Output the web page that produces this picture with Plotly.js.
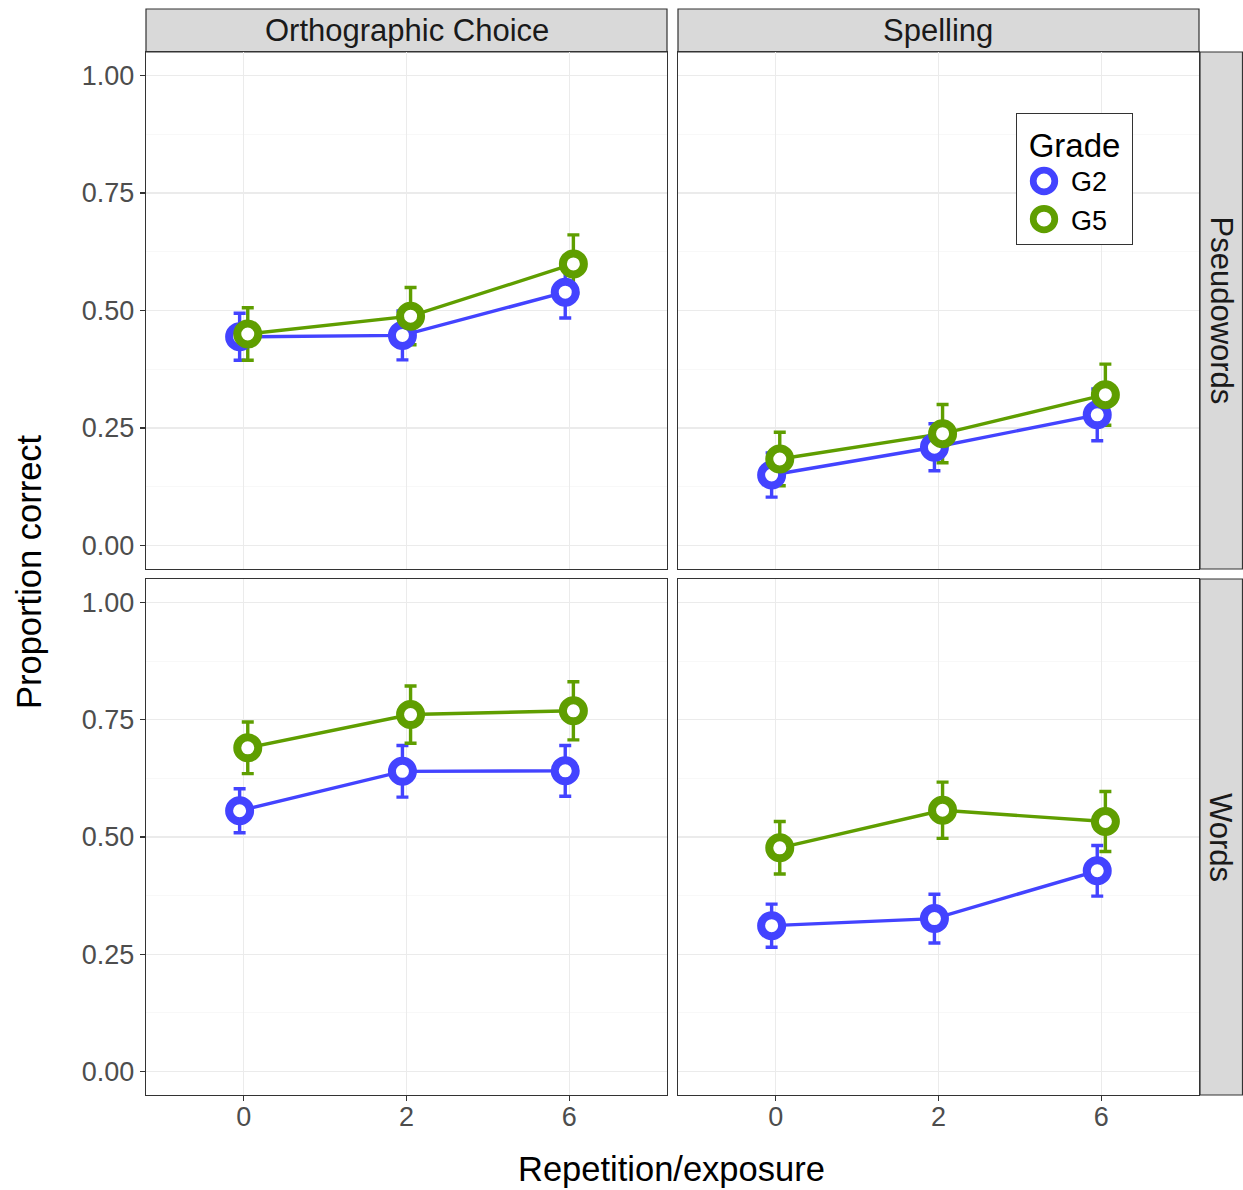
<!DOCTYPE html>
<html>
<head>
<meta charset="utf-8">
<script src="https://cdn.plot.ly/plotly-3.0.1.min.js"></script>
<style>
  html, body { margin: 0; padding: 0; background: #ffffff; }
  #chart { width: 1243px; height: 1190px; }
</style>
</head>
<body>
<div id="chart"></div>
<script>
// Facet labels and x categories
const tasks = ['Orthographic Choice', 'Spelling'];
const itemTypes = ['Pseudowords', 'Words'];
const exposures = ['0', '2', '6'];
const grades = ['G2', 'G5'];

// Mean proportion correct (and standard error) per panel, by grade
const ocPseudoG2 = [0.444, 0.447, 0.539];
const ocPseudoG2Se = [0.050, 0.052, 0.055];
const ocPseudoG5 = [0.450, 0.488, 0.599];
const ocPseudoG5Se = [0.056, 0.061, 0.062];

const spPseudoG2 = [0.150, 0.209, 0.278];
const spPseudoG2Se = [0.047, 0.050, 0.055];
const spPseudoG5 = [0.184, 0.238, 0.321];
const spPseudoG5Se = [0.057, 0.062, 0.065];

const ocWordsG2 = [0.556, 0.640, 0.641];
const ocWordsG2Se = [0.047, 0.055, 0.054];
const ocWordsG5 = [0.690, 0.761, 0.769];
const ocWordsG5Se = [0.055, 0.061, 0.062];

const spWordsG2 = [0.311, 0.326, 0.428];
const spWordsG2Se = [0.046, 0.052, 0.054];
const spWordsG5 = [0.477, 0.557, 0.533];
const spWordsG5Se = [0.056, 0.060, 0.064];

// panels in row-major order: [row][col]
const panels = [
  [ { g2: ocPseudoG2, g2se: ocPseudoG2Se, g5: ocPseudoG5, g5se: ocPseudoG5Se },
    { g2: spPseudoG2, g2se: spPseudoG2Se, g5: spPseudoG5, g5se: spPseudoG5Se } ],
  [ { g2: ocWordsG2, g2se: ocWordsG2Se, g5: ocWordsG5, g5se: ocWordsG5Se },
    { g2: spWordsG2, g2se: spWordsG2Se, g5: spWordsG5, g5se: spWordsG5Se } ]
];

const colors = { G2: '#4343FF', G5: '#5F9E00' };
const dodge = 0.025;   // half of the dodge width between grades

const W = 1243, H = 1190;
const fx = p => p / W;
const fy = p => 1 - p / H;

// panel boxes in pixels
const colPx = [[146, 667], [678, 1199]];
const rowPx = [[52, 569], [579, 1095]];

const FONT = 'Liberation Sans, Arial, Helvetica, sans-serif';
const xpos = exposures.map((_, i) => i + 1);

const layout = {
  width: W, height: H,
  margin: { l: 0, r: 0, t: 0, b: 0 },
  paper_bgcolor: '#ffffff',
  plot_bgcolor: '#ffffff',
  font: { family: FONT, color: '#000000' },
  showlegend: true,
  hovermode: false,
  legend: {
    x: fx(1016), y: fy(113), xanchor: 'left', yanchor: 'top',
    bgcolor: '#ffffff', bordercolor: '#333333', borderwidth: 1,
    font: { family: FONT, size: 27, color: '#000000' },
    title: { text: '&nbsp;Grade&nbsp;', font: { family: FONT, size: 33, color: '#000000' }, side: 'top center' },
    itemsizing: 'trace', itemwidth: 44, tracegroupgap: 0
  },
  shapes: [],
  annotations: []
};

const traces = [];
const markerTraces = [];

for (let r = 0; r < 2; r++) {
  for (let c = 0; c < 2; c++) {
    const k = r * 2 + c;
    const sfx = k === 0 ? '' : String(k + 1);
    const xName = 'xaxis' + sfx, yName = 'yaxis' + sfx;
    const bottom = r === 1, left = c === 0;

    layout[xName] = {
      domain: [fx(colPx[c][0]), fx(colPx[c][1])],
      anchor: 'y' + sfx,
      range: [0.4, 3.6],
      tickvals: xpos, ticktext: exposures,
      showgrid: true, gridcolor: '#EBEBEB', gridwidth: 1.2,
      zeroline: false,
      showline: true, mirror: true, linecolor: '#333333', linewidth: 1.2,
      ticks: bottom ? 'outside' : '', ticklen: 5, tickwidth: 1.2, tickcolor: '#333333',
      showticklabels: bottom,
      ticklabelstandoff: -8,
      tickfont: { family: FONT, size: 27, color: '#4D4D4D' },
      fixedrange: true
    };
    layout[yName] = {
      domain: [fy(rowPx[r][1]), fy(rowPx[r][0])],
      anchor: 'x' + sfx,
      range: [-0.05, 1.05],
      tick0: 0, dtick: 0.25, tickformat: '.2f',
      showgrid: true, gridcolor: '#EBEBEB', gridwidth: 1.2,
      minor: { dtick: 0.125, tick0: 0, showgrid: true, gridcolor: '#F5F5F5', gridwidth: 0.7, ticks: '' },
      zeroline: false,
      showline: true, mirror: true, linecolor: '#333333', linewidth: 1.2,
      ticks: left ? 'outside' : '', ticklen: 5, tickwidth: 1.2, tickcolor: '#333333',
      showticklabels: left,
      tickfont: { family: FONT, size: 27, color: '#4D4D4D' },
      fixedrange: true
    };

    const p = panels[r][c];
    const series = [
      { name: 'G2', y: p.g2, se: p.g2se, off: -dodge },
      { name: 'G5', y: p.g5, se: p.g5se, off: dodge }
    ];
    series.forEach(s => {
      const xs = xpos.map(v => v + s.off);
      traces.push({
        type: 'scatter', mode: 'lines',
        x: xs, y: s.y, xaxis: 'x' + sfx, yaxis: 'y' + sfx,
        line: { color: colors[s.name], width: 3.4 },
        error_y: { type: 'data', array: s.se, visible: true, color: colors[s.name], thickness: 3.4, width: 6 },
        showlegend: false, hoverinfo: 'skip'
      });
      markerTraces.push({
        type: 'scatter', mode: 'markers',
        name: s.name, legendgroup: s.name,
        x: xs, y: s.y, xaxis: 'x' + sfx, yaxis: 'y' + sfx,
        marker: { symbol: 'circle', size: 21, color: '#ffffff', line: { color: colors[s.name], width: 8 } },
        showlegend: k === 0, hoverinfo: 'skip'
      });
    });
  }
}

// strip backgrounds: tasks across the top, item types down the right side
for (let c = 0; c < 2; c++) {
  layout.shapes.push({
    type: 'rect', xref: 'paper', yref: 'paper',
    x0: fx(colPx[c][0]), x1: fx(colPx[c][1]), y0: fy(52), y1: fy(9),
    fillcolor: '#D9D9D9', line: { color: '#333333', width: 1.2 }, layer: 'below'
  });
  layout.annotations.push({
    xref: 'paper', yref: 'paper', x: fx((colPx[c][0] + colPx[c][1]) / 2), y: fy(30.5),
    xanchor: 'center', yanchor: 'middle', showarrow: false,
    text: tasks[c], font: { family: FONT, size: 31, color: '#1A1A1A' }
  });
}
for (let r = 0; r < 2; r++) {
  layout.shapes.push({
    type: 'rect', xref: 'paper', yref: 'paper',
    x0: fx(1200), x1: fx(1242.5), y0: fy(rowPx[r][1]), y1: fy(rowPx[r][0]),
    fillcolor: '#D9D9D9', line: { color: '#333333', width: 1.2 }, layer: 'below'
  });
  layout.annotations.push({
    xref: 'paper', yref: 'paper', x: fx(1221), y: fy((rowPx[r][0] + rowPx[r][1]) / 2),
    xanchor: 'center', yanchor: 'middle', showarrow: false, textangle: 90,
    text: itemTypes[r], font: { family: FONT, size: 31, color: '#1A1A1A' }
  });
}

// axis titles
layout.annotations.push({
  xref: 'paper', yref: 'paper', x: fx(672), y: fy(1169),
  xanchor: 'center', yanchor: 'middle', showarrow: false,
  text: 'Repetition/exposure', font: { family: FONT, size: 34.5, color: '#000000' }
});
layout.annotations.push({
  xref: 'paper', yref: 'paper', x: fx(29), y: fy(572),
  xanchor: 'center', yanchor: 'middle', showarrow: false, textangle: -90,
  text: 'Proportion correct', font: { family: FONT, size: 34.5, color: '#000000' }
});

Plotly.newPlot('chart', traces.concat(markerTraces), layout, { staticPlot: true, displayModeBar: false })
  .then(gd => {
    // the legend caps symbol size; enlarge the keys to the size of the plotted points
    gd.querySelectorAll('.legend .legendpoints path.scatterpts').forEach(el => {
      const t = el.getAttribute('transform') || '';
      el.setAttribute('transform', t + ' scale(1.35)');
    });
  });
</script>
</body>
</html>
